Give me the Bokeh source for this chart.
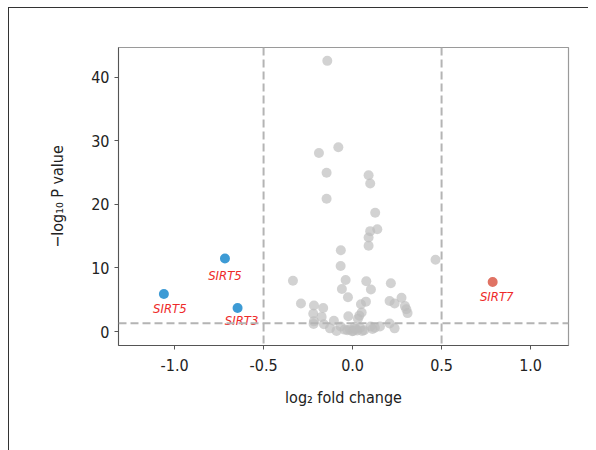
from bokeh.plotting import figure
from bokeh.models import ColumnDataSource, Span, FixedTicker, PrintfTickFormatter, Range1d, InlineStyleSheet
from bokeh.core.properties import value
from bokeh.embed import file_html
from bokeh.resources import INLINE

FONT = "'Liberation Sans Narrow', 'DejaVu Sans Condensed', sans-serif"

# non-significant genes (gray)
ns_logfc = [-0.142, -0.080, -0.189, -0.146, 0.090, 0.099, -0.146, 0.127, 0.139, 0.099,
            0.090, 0.090, -0.066, -0.067, 0.466, -0.335, -0.039, 0.077, 0.215, -0.060,
            0.103, -0.026, 0.275, -0.290, 0.208, 0.236, 0.075, 0.047, -0.217, -0.165,
            0.294, 0.302, 0.309, 0.051, 0.038, 0.030, -0.221, -0.024, -0.174, -0.217,
            -0.105, -0.161, 0.208, -0.127, -0.090, -0.067, -0.030, -0.002, 0.026, 0.054,
            0.101, 0.125, 0.154, 0.236, 0.011, -0.015, 0.004, 0.018, -0.045, 0.065,
            0.112, -0.219, 0.042]
ns_logp = [42.6, 29.0, 28.1, 25.0, 24.6, 23.3, 20.9, 18.7, 16.1, 15.8,
           14.8, 13.5, 12.8, 10.3, 11.3, 8.0, 8.1, 7.9, 7.6, 6.7,
           6.6, 5.4, 5.3, 4.4, 4.8, 4.4, 4.7, 4.3, 4.1, 3.7,
           4.0, 3.5, 2.9, 3.0, 2.5, 2.0, 2.8, 2.4, 2.3, 1.6,
           1.7, 1.15, 1.26, 0.5, 0.1, 0.8, 0.2, 0.05, 0.15, 0.1,
           0.8, 0.6, 0.8, 0.5, 0.7, 0.3, 0.1, 0.4, 0.3, 0.2,
           0.4, 1.2, 0.6]

# significant genes
down_gene = ["SIRT5", "SIRT5", "SIRT3"]
down_logfc = [-1.060, -0.717, -0.646]
down_logp = [5.9, 11.5, 3.7]
up_gene = ["SIRT7"]
up_logfc = [0.787]
up_logp = [7.8]

fc_cut = 0.5
p_cut = 1.30103  # -log10(0.05)

x_ticks = [-1.0, -0.5, 0.0, 0.5, 1.0]
y_ticks = [0, 10, 20, 30, 40]

p = figure(width=596, height=450, output_backend="svg", toolbar_location=None,
           x_range=Range1d(-1.315, 1.213), y_range=Range1d(-2.2, 44.7),
           min_border_left=118, min_border_right=28, min_border_top=47, min_border_bottom=105)

p.grid.visible = False
p.outline_line_color = "#9a9a9a"
p.outline_line_width = 1.2
p.background_fill_color = "white"
p.border_fill_color = "white"

for ax in (p.xaxis, p.yaxis):
    ax.axis_line_color = "#555555"
    ax.major_tick_line_color = "#555555"
    ax.major_tick_out = 4
    ax.major_tick_in = 0
    ax.minor_tick_line_color = None
    ax.major_label_text_font = FONT
    ax.major_label_text_font_size = "16px"
    ax.major_label_text_color = "#222222"
    ax.axis_label_text_font = FONT
    ax.axis_label_text_font_size = "16px"
    ax.axis_label_text_font_style = "normal"
    ax.axis_label_text_color = "#222222"

p.xaxis.ticker = FixedTicker(ticks=x_ticks)
p.xaxis.formatter = PrintfTickFormatter(format="%.1f")
p.yaxis.ticker = FixedTicker(ticks=y_ticks)
p.xaxis.axis_label = "log\u2082 fold change"
p.yaxis.axis_label = "\u2212log\u2081\u2080 P value"
p.xaxis.major_label_standoff = 9
p.xaxis.axis_label_standoff = 14
p.yaxis.major_label_standoff = 5
p.yaxis.axis_label_standoff = 21

dash_col = "#b4b4b4"
for xv in (-fc_cut, fc_cut):
    p.add_layout(Span(location=xv, dimension="height", line_color=dash_col,
                      line_width=2, line_dash="8 4"))
p.add_layout(Span(location=p_cut, dimension="width", line_color=dash_col,
                  line_width=2, line_dash="8 4"))

p.scatter(ns_logfc, ns_logp, size=10, fill_color="#bdbdbd", fill_alpha=0.68, line_color=None)

down_src = ColumnDataSource(dict(x=down_logfc, y=down_logp, gene=down_gene,
                                 dx=[6, 0, 4], dy=[14, 17, 12]))
up_src = ColumnDataSource(dict(x=up_logfc, y=up_logp, gene=up_gene, dx=[4], dy=[15]))

p.scatter("x", "y", source=down_src, size=10, fill_color="#3d9bd5", line_color=None)
p.scatter("x", "y", source=up_src, size=10, fill_color="#e07364", line_color=None)

for src in (down_src, up_src):
    p.text("x", "y", text="gene", source=src, x_offset="dx", y_offset="dy",
           text_font=value(FONT), text_font_style="italic", text_font_size="13px",
           text_color="#ee2a2a", text_align="center", text_baseline="middle")

p.stylesheets = [InlineStyleSheet(css=""":host::after { content: ""; position: absolute;
  left: 8px; top: 7px; width: 579px; height: 443px; border-top: 1.5px solid #333;
  border-left: 1.5px solid #333; pointer-events: none; z-index: 100; }
  :host { position: relative; }""")]

open("out.html", "w").write(file_html(p, INLINE))
